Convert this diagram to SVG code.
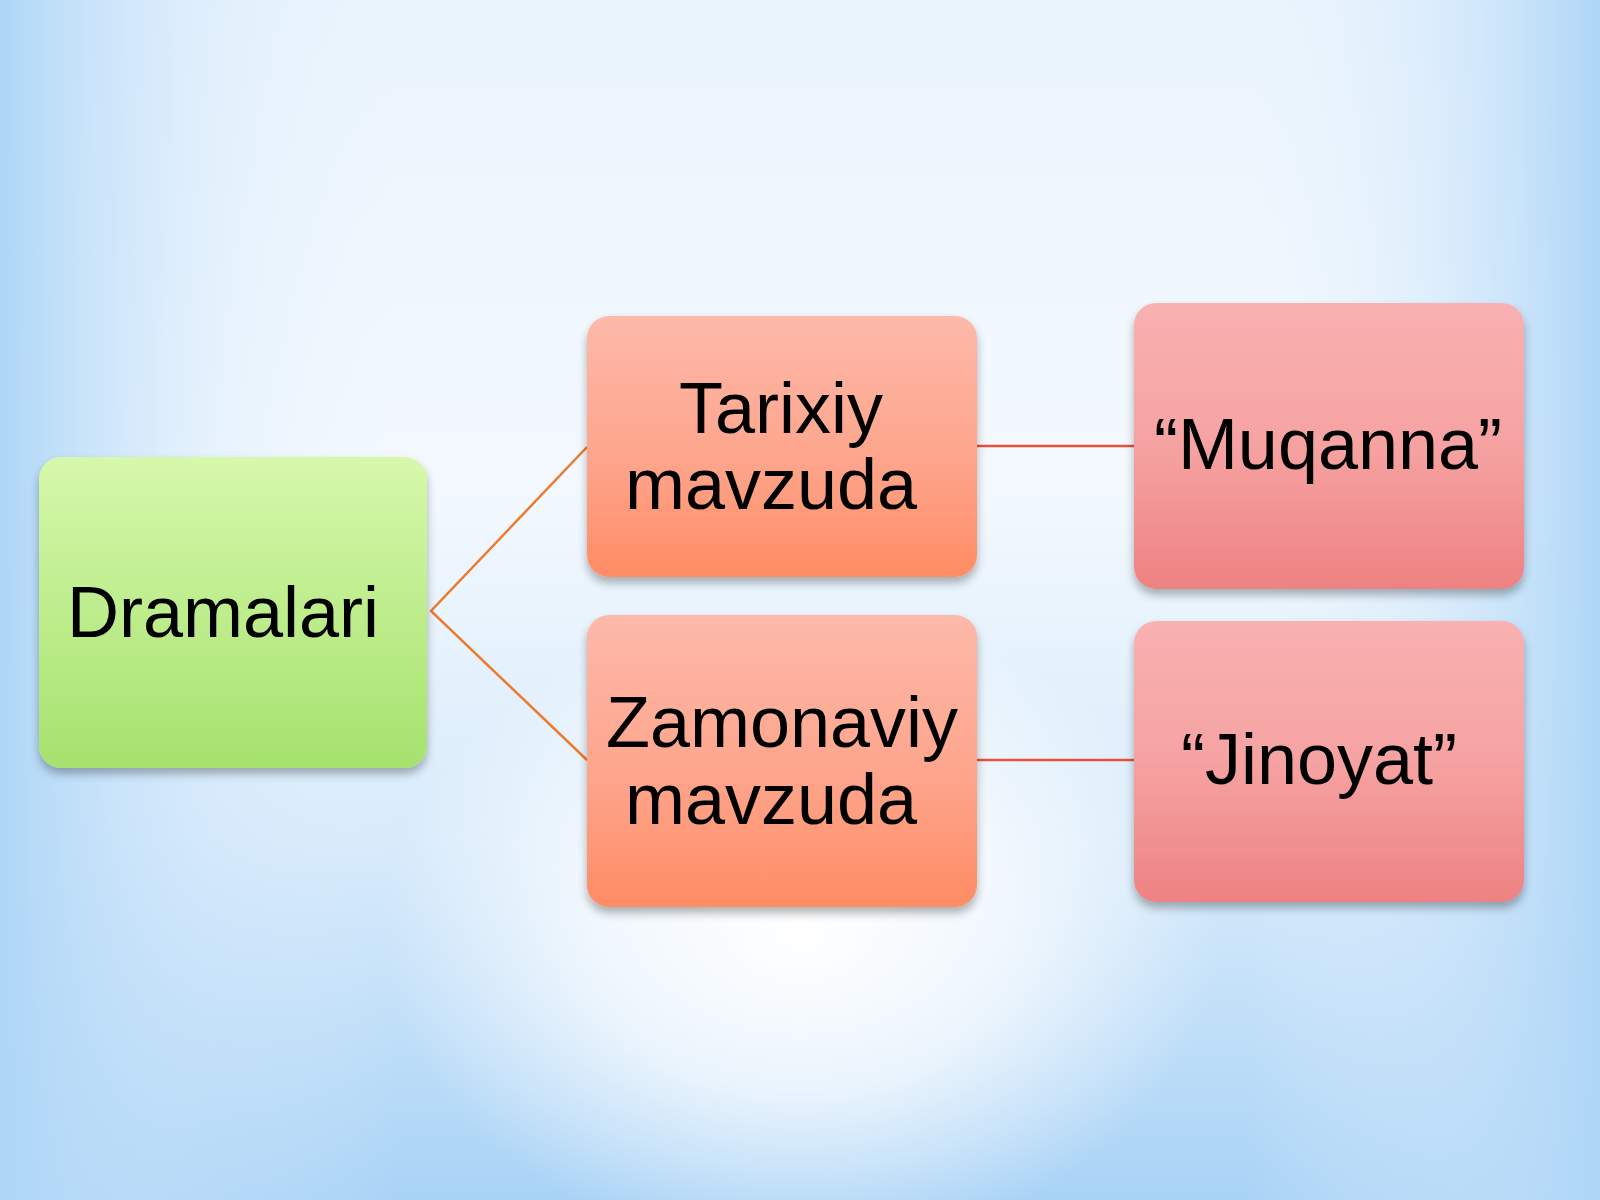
<svg xmlns="http://www.w3.org/2000/svg" width="1600" height="1200" viewBox="0 0 1600 1200">
<defs>
<linearGradient id="bgV" x1="0" y1="0" x2="0" y2="1">
<stop offset="0" stop-color="#eaf4fd"/>
<stop offset="0.4" stop-color="#f3f9fe"/>
<stop offset="0.7" stop-color="#d8ebfb"/>
<stop offset="1" stop-color="#a9d3f6"/>
</linearGradient>
<linearGradient id="bgH" x1="0" y1="0" x2="1" y2="0">
<stop offset="0" stop-color="#aed6f7" stop-opacity="1"/>
<stop offset="0.14" stop-color="#cfe6fb" stop-opacity="0.3"/>
<stop offset="0.25" stop-color="#e8f3fd" stop-opacity="0"/>
<stop offset="0.78" stop-color="#e8f3fd" stop-opacity="0"/>
<stop offset="0.88" stop-color="#cfe6fb" stop-opacity="0.4"/>
<stop offset="1" stop-color="#aed6f7" stop-opacity="1"/>
</linearGradient>
<radialGradient id="glow" cx="0.5" cy="0.5" r="0.5">
<stop offset="0" stop-color="#ffffff" stop-opacity="1"/>
<stop offset="0.5" stop-color="#ffffff" stop-opacity="0.7"/>
<stop offset="1" stop-color="#ffffff" stop-opacity="0"/>
</radialGradient>
<linearGradient id="gGreen" x1="0" y1="0" x2="0" y2="1">
<stop offset="0" stop-color="#d6f8ab"/>
<stop offset="1" stop-color="#a6e26e"/>
</linearGradient>
<linearGradient id="gOrange" x1="0" y1="0" x2="0" y2="1">
<stop offset="0" stop-color="#fdb9aa"/>
<stop offset="0.55" stop-color="#fea58c"/>
<stop offset="1" stop-color="#ff8c64"/>
</linearGradient>
<linearGradient id="gPink" x1="0" y1="0" x2="0" y2="1">
<stop offset="0" stop-color="#f9b1b1"/>
<stop offset="0.5" stop-color="#f6a2a2"/>
<stop offset="1" stop-color="#ee8282"/>
</linearGradient>
<filter id="shadow" x="-10%" y="-10%" width="120%" height="130%">
<feGaussianBlur in="SourceAlpha" stdDeviation="5"/>
<feOffset dx="0" dy="6" result="b"/>
<feComponentTransfer><feFuncA type="linear" slope="0.3"/></feComponentTransfer>
<feMerge><feMergeNode/><feMergeNode in="SourceGraphic"/></feMerge>
</filter>
</defs>
<style>
text{font-family:"Liberation Sans",Arial,sans-serif;font-size:72px;fill:#000;text-anchor:middle}
.conn{fill:none;stroke-width:2.5}
</style>
<g id="background">
<rect x="0" y="0" width="1600" height="1200" fill="url(#bgV)"/>
<rect x="0" y="0" width="1600" height="1200" fill="url(#bgH)"/>
<ellipse cx="800" cy="930" rx="420" ry="320" fill="url(#glow)"/>
</g>
<g id="connectors">
<polyline class="conn" stroke="#ee7a2e" points="587,447 431,611 587,760"/>
<line class="conn" stroke="#e8503c" x1="977" y1="446" x2="1134" y2="446"/>
<line class="conn" stroke="#e8503c" x1="977" y1="760" x2="1134" y2="760"/>
</g>
<g id="node-dramalari" filter="url(#shadow)">
<rect x="39" y="457" width="388" height="311" rx="22" fill="url(#gGreen)"/>
<text x="223" y="637">Dramalari</text>
</g>
<g id="node-tarixiy" filter="url(#shadow)">
<rect x="587" y="316" width="390" height="261" rx="22" fill="url(#gOrange)"/>
<text x="781" y="433">Tarixiy</text>
<text x="771" y="509">mavzuda</text>
</g>
<g id="node-zamonaviy" filter="url(#shadow)">
<rect x="587" y="615" width="390" height="292" rx="22" fill="url(#gOrange)"/>
<text x="782" y="747">Zamonaviy</text>
<text x="771" y="824">mavzuda</text>
</g>
<g id="node-muqanna" filter="url(#shadow)">
<rect x="1134" y="303" width="390" height="286" rx="22" fill="url(#gPink)"/>
<text x="1328" y="469">“Muqanna”</text>
</g>
<g id="node-jinoyat" filter="url(#shadow)">
<rect x="1134" y="621" width="390" height="281" rx="22" fill="url(#gPink)"/>
<text x="1319" y="784">“Jinoyat”</text>
</g>
</svg>
